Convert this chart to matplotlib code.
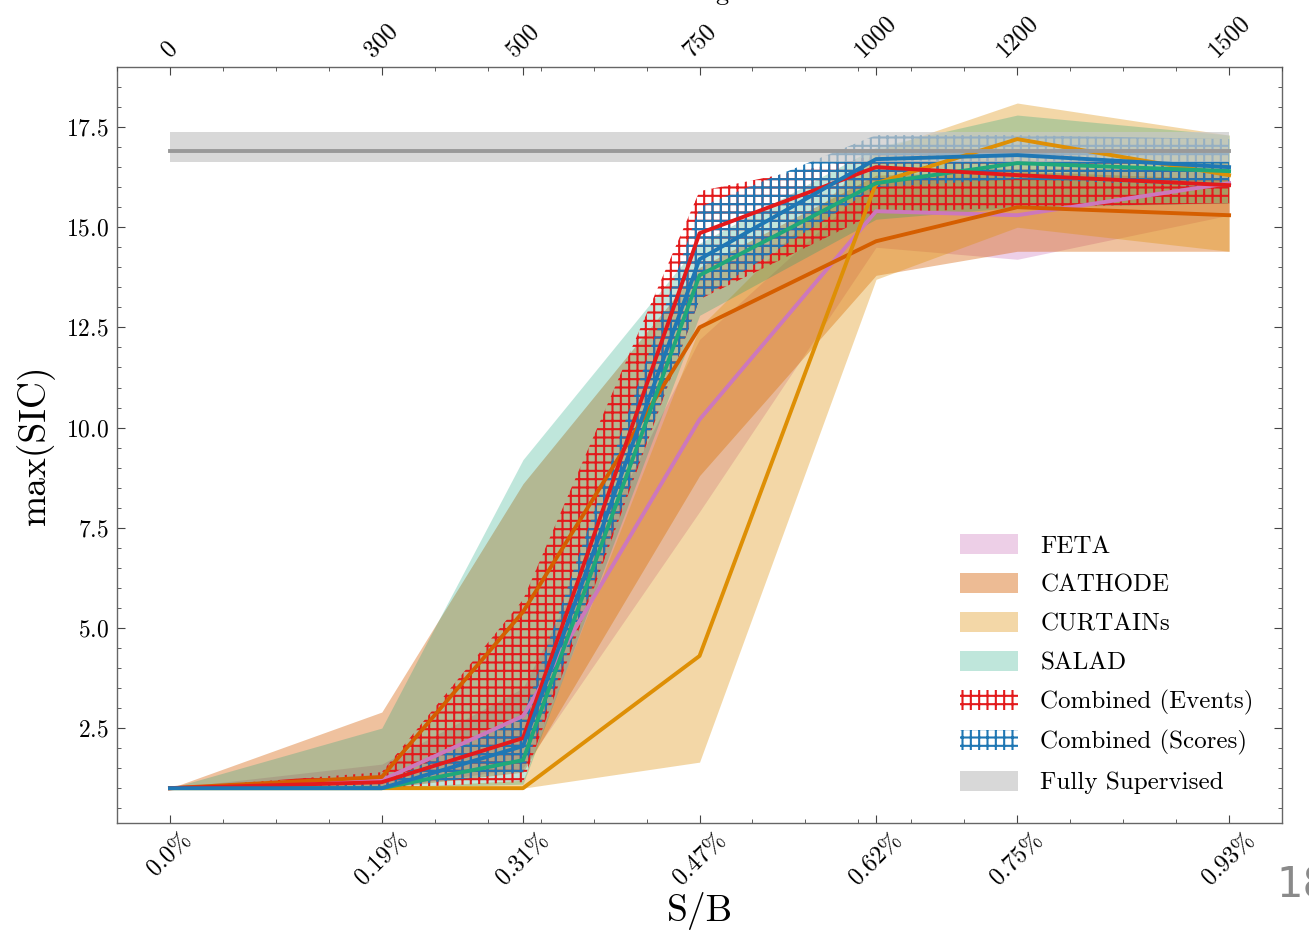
import matplotlib
matplotlib.use("Agg")
import matplotlib.pyplot as plt
from matplotlib.patches import Patch
from matplotlib.ticker import MultipleLocator, FixedLocator
import numpy as np

# ---------------- data ----------------
n_sig = [0, 300, 500, 750, 1000, 1200, 1500]
sb_labels = ['0.0%', '0.19%', '0.31%', '0.47%', '0.62%', '0.75%', '0.93%']
nsig_labels = ['0', '300', '500', '750', '1000', '1200', '1500']

feta_mean = [1.0, 1.2, 2.8, 10.2, 15.4, 15.3, 16.1]
feta_low = [1.0, 1.0, 1.5, 7.9, 14.5, 14.2, 15.3]
feta_high = [1.0, 1.6, 3.5, 12.2, 16.2, 16.3, 16.6]

cathode_mean = [1.0, 1.28, 5.4, 12.5, 14.65, 15.5, 15.3]
cathode_low = [1.0, 1.0, 1.4, 8.8, 13.8, 14.4, 14.4]
cathode_high = [1.0, 2.9, 8.6, 14.0, 16.3, 16.4, 16.2]

curtains_mean = [1.0, 1.0, 1.0, 4.3, 16.1, 17.2, 16.3]
curtains_low = [1.0, 1.0, 1.0, 1.65, 13.7, 15.0, 14.4]
curtains_high = [1.0, 1.0, 1.2, 12.5, 16.9, 18.1, 17.3]

salad_mean = [1.0, 1.0, 1.7, 13.8, 16.1, 16.6, 16.4]
salad_low = [1.0, 1.0, 1.1, 12.8, 15.2, 15.5, 15.6]
salad_high = [1.0, 2.5, 9.2, 14.6, 17.0, 17.8, 17.3]

events_mean = [1.0, 1.15, 2.25, 14.85, 16.5, 16.3, 16.05]
events_low = [1.0, 1.0, 1.15, 13.2, 15.35, 15.5, 15.6]
events_high = [1.0, 1.4, 5.7, 15.9, 16.8, 16.9, 16.5]

scores_mean = [1.0, 1.0, 2.05, 14.2, 16.7, 16.8, 16.5]
scores_low = [1.0, 1.0, 1.4, 13.2, 16.0, 16.2, 16.0]
scores_high = [1.0, 1.1, 2.8, 15.5, 17.3, 17.3, 17.2]

fully_mean = 16.9
fully_low = 16.62
fully_high = 17.37

# ---------------- style ----------------
plt.rcParams['font.family'] = ['cmr10', 'DejaVu Serif']
plt.rcParams['mathtext.fontset'] = 'cm'
plt.rcParams['axes.formatter.use_mathtext'] = True
plt.rcParams['hatch.linewidth'] = 1.5
plt.rcParams['axes.unicode_minus'] = False

c_feta = '#cc78bc'
c_cathode = '#d55e00'
c_curtains = '#de8f05'
c_salad = '#1fa87a'
c_events = '#e31a1c'
c_scores = '#1f77b4'
c_fully = '#999999'

fig = plt.figure(figsize=(13.09, 9.34), dpi=100)
ax = fig.add_axes([0.0894, 0.1188, 0.89, 0.8095])

x = np.array(n_sig, dtype=float)

# fills
ax.fill_between(x, feta_low, feta_high, color=c_feta, alpha=0.35, linewidth=0, zorder=1)
ax.fill_between(x, cathode_low, cathode_high, color=c_cathode, alpha=0.38, linewidth=0, zorder=1)
ax.fill_between(x, curtains_low, curtains_high, color=c_curtains, alpha=0.35, linewidth=0, zorder=1)
ax.fill_between(x, salad_low, salad_high, color='#029e73', alpha=0.25, linewidth=0, zorder=1)
ax.fill_between(x, events_low, events_high, facecolor='none', edgecolor=c_events, hatch='++', linewidth=0, zorder=2)
ax.fill_between(x, scores_low, scores_high, facecolor='none', edgecolor=c_scores, hatch='++', linewidth=0, zorder=2)
ax.fill_between(x, [fully_low] * len(x), [fully_high] * len(x), color='#c8c8c8', alpha=0.7, linewidth=0, zorder=2)

# lines
lw = 2.8
ax.plot(x, feta_mean, color=c_feta, lw=lw, zorder=3)
ax.plot(x, cathode_mean, color=c_cathode, lw=lw, zorder=3)
ax.plot(x, curtains_mean, color=c_curtains, lw=lw, zorder=3)
ax.plot(x, salad_mean, color=c_salad, lw=lw, zorder=3)
ax.plot(x, events_mean, color=c_events, lw=lw, zorder=4)
ax.plot(x, scores_mean, color=c_scores, lw=lw, zorder=4)
ax.plot(x, [fully_mean] * len(x), color=c_fully, lw=lw, zorder=3)

ax.set_xlim(-75, 1575)
ax.set_ylim(0.13, 19.0)

ax.xaxis.set_major_locator(FixedLocator(n_sig))
ax.set_xticklabels(sb_labels, rotation=45)
ax.xaxis.set_minor_locator(MultipleLocator(75))
ax.yaxis.set_major_locator(MultipleLocator(2.5))
ax.yaxis.set_minor_locator(MultipleLocator(0.5))
ax.tick_params(axis='both', which='both', direction='in', top=False, right=True, colors='#444444', labelcolor='black')
ax.tick_params(axis='both', which='major', length=6, width=0.8, labelsize=17, pad=6)
ax.tick_params(axis='both', which='minor', length=3, width=0.6)
ax.tick_params(axis='x', which='major', pad=4, labelsize=17.5)

for s in ax.spines.values():
    s.set_color('#666666')
    s.set_linewidth(1.0)

ax.set_xlabel('S/B', fontsize=27, labelpad=2)
ax.set_ylabel('max(SIC)', fontsize=27, labelpad=8)

ax2 = ax.twiny()
ax2.set_xlim(ax.get_xlim())
ax2.xaxis.set_major_locator(FixedLocator(n_sig))
ax2.set_xticklabels(nsig_labels, rotation=45)
ax2.xaxis.set_minor_locator(MultipleLocator(75))
ax2.tick_params(axis='x', which='both', direction='in', colors='#444444', labelcolor='black')
ax2.tick_params(axis='x', which='major', length=6, width=0.8, labelsize=17.5, pad=4)
ax2.tick_params(axis='x', which='minor', length=3, width=0.6)
for s in ax2.spines.values():
    s.set_visible(False)

fig.text(0.534, 1 - 8 / 934, r'$N_{\rm sig}$', fontsize=27, ha='center', va='bottom')

# legend
handles = [
    Patch(facecolor=c_feta, alpha=0.35, linewidth=0),
    Patch(facecolor=c_cathode, alpha=0.42, linewidth=0),
    Patch(facecolor=c_curtains, alpha=0.35, linewidth=0),
    Patch(facecolor='#029e73', alpha=0.25, linewidth=0),
    Patch(facecolor='none', edgecolor=c_events, hatch='++', linewidth=0),
    Patch(facecolor='none', edgecolor=c_scores, hatch='++', linewidth=0),
    Patch(facecolor='#c8c8c8', alpha=0.7, linewidth=0),
]
labels = ['FETA', 'CATHODE', 'CURTAINs', 'SALAD', 'Combined (Events)', 'Combined (Scores)', 'Fully Supervised']
leg = ax.legend(handles, labels, loc='lower right', fontsize=18, frameon=False,
                handlelength=2.3, handleheight=0.85, handletextpad=0.9, labelspacing=0.61,
                borderaxespad=0.6, bbox_to_anchor=(0.997, 0.005))

fig.text(1276 / 1309, 1 - 885 / 934, '18', fontsize=30, color='#8a8a8a', family='DejaVu Sans', va='center', ha='left')

fig.savefig('out.png', dpi=100)
